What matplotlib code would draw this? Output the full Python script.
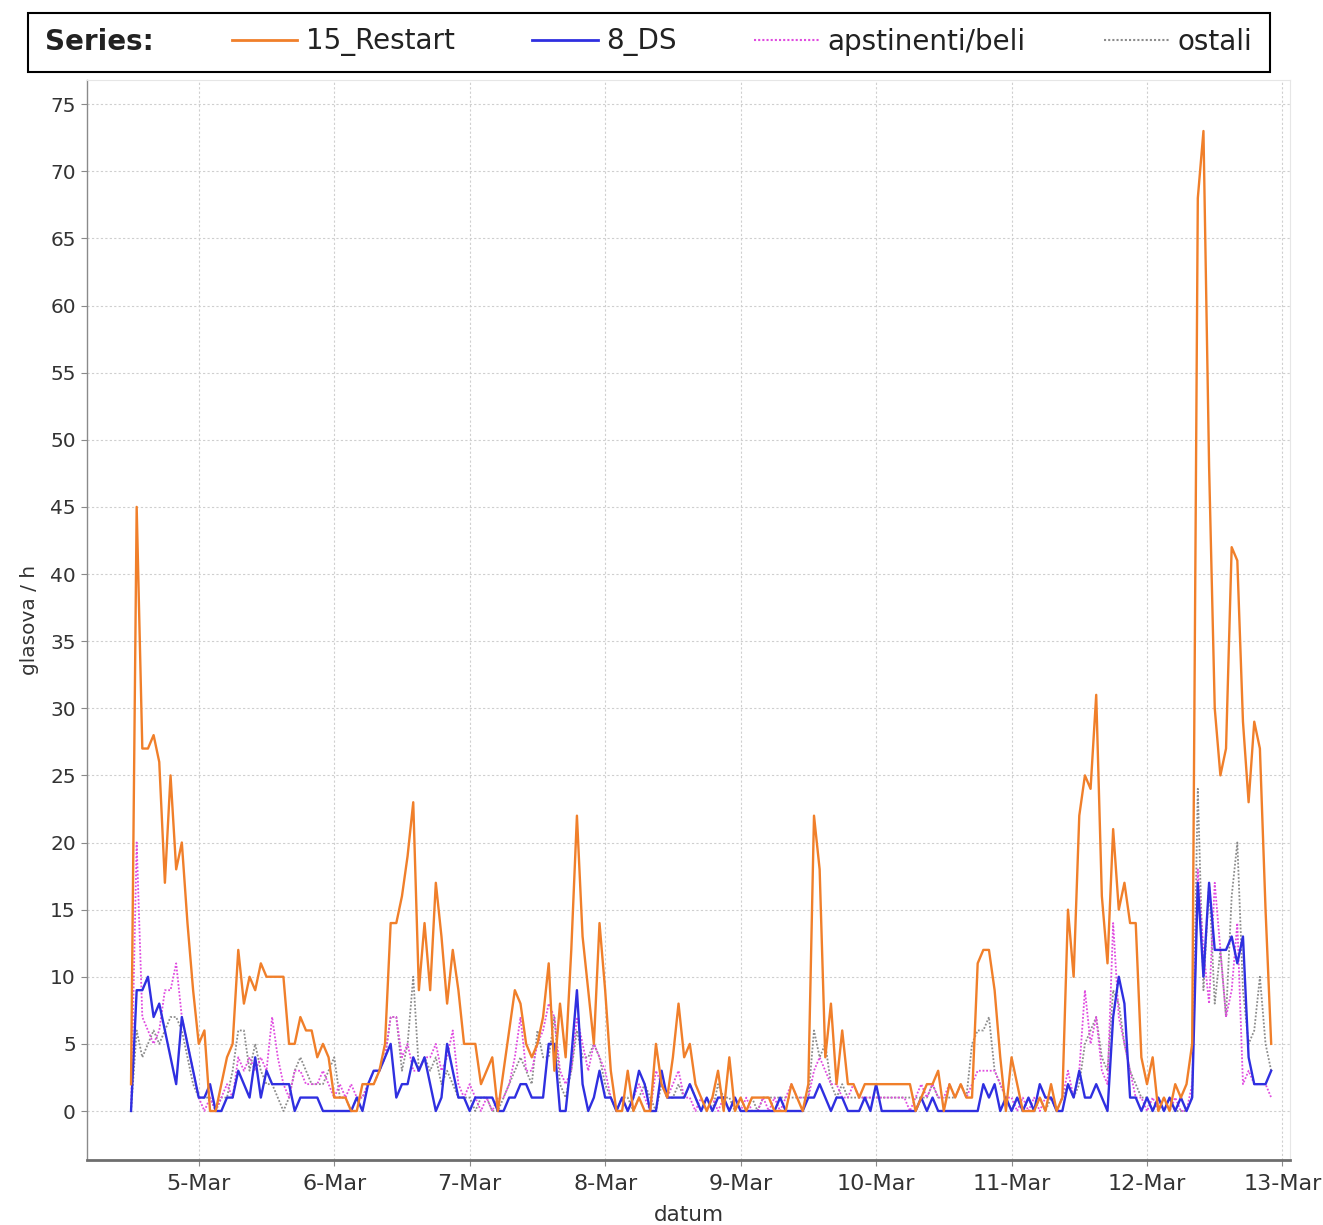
import matplotlib
matplotlib.use("Agg")
import matplotlib.pyplot as plt
import matplotlib.dates as mdates
import pandas as pd
from matplotlib.lines import Line2D
from matplotlib.patches import Rectangle

# hourly votes per series, starting 4-Mar 12:00
START = "2012-03-04 12:00"

restart = [
    2, 45, 27, 27, 28, 26, 17, 25, 18, 20, 14, 9,
    5, 6, 0, 0, 2, 4, 5, 12, 8, 10, 9, 11,
    10, 10, 10, 10, 5, 5, 7, 6, 6, 4, 5, 4,
    1, 1, 1, 0, 0, 2, 2, 2, 3, 5, 14, 14,
    16, 19, 23, 9, 14, 9, 17, 13, 8, 12, 9, 5,
    5, 5, 2, 3, 4, 0, 3, 6, 9, 8, 5, 4,
    5, 7, 11, 3, 8, 4, 12, 22, 13, 9, 5, 14,
    9, 3, 0, 0, 3, 0, 1, 0, 0, 5, 2, 1,
    4, 8, 4, 5, 2, 1, 0, 1, 3, 0, 4, 0,
    1, 0, 1, 1, 1, 1, 0, 0, 0, 2, 1, 0,
    2, 22, 18, 4, 8, 2, 6, 2, 2, 1, 2, 2,
    2, 2, 2, 2, 2, 2, 2, 0, 1, 2, 2, 3,
    0, 2, 1, 2, 1, 1, 11, 12, 12, 9, 4, 0,
    4, 2, 0, 0, 0, 1, 0, 2, 0, 1, 15, 10,
    22, 25, 24, 31, 16, 11, 21, 15, 17, 14, 14, 4,
    2, 4, 0, 1, 0, 2, 1, 2, 5, 68, 73, 48,
    30, 25, 27, 42, 41, 29, 23, 29, 27, 15, 5,
]

ds = [
    0, 9, 9, 10, 7, 8, 6, 4, 2, 7, 5, 3,
    1, 1, 2, 0, 0, 1, 1, 3, 2, 1, 4, 1,
    3, 2, 2, 2, 2, 0, 1, 1, 1, 1, 0, 0,
    0, 0, 0, 0, 1, 0, 2, 3, 3, 4, 5, 1,
    2, 2, 4, 3, 4, 2, 0, 1, 5, 3, 1, 1,
    0, 1, 1, 1, 1, 0, 0, 1, 1, 2, 2, 1,
    1, 1, 5, 5, 0, 0, 4, 9, 2, 0, 1, 3,
    1, 1, 0, 1, 0, 1, 3, 2, 0, 0, 3, 1,
    1, 1, 1, 2, 1, 0, 1, 0, 1, 1, 0, 1,
    0, 0, 0, 0, 0, 0, 0, 1, 0, 0, 0, 0,
    1, 1, 2, 1, 0, 1, 1, 0, 0, 0, 1, 0,
    2, 0, 0, 0, 0, 0, 0, 0, 1, 0, 1, 0,
    0, 0, 0, 0, 0, 0, 0, 2, 1, 2, 0, 1,
    0, 1, 0, 1, 0, 2, 1, 1, 0, 0, 2, 1,
    3, 1, 1, 2, 1, 0, 7, 10, 8, 1, 1, 0,
    1, 0, 1, 0, 1, 0, 1, 0, 1, 17, 10, 17,
    12, 12, 12, 13, 11, 13, 4, 2, 2, 2, 3,
]

apstinenti = [
    0, 20, 7, 6, 5, 6, 9, 9, 11, 7, 5, 3,
    1, 0, 1, 0, 1, 2, 1, 4, 3, 4, 3, 4,
    3, 7, 4, 2, 1, 3, 3, 2, 2, 2, 3, 2,
    1, 2, 1, 2, 1, 1, 2, 3, 3, 4, 7, 7,
    4, 5, 3, 3, 4, 4, 5, 3, 4, 6, 2, 1,
    2, 1, 0, 1, 0, 1, 1, 2, 4, 7, 3, 3,
    5, 6, 8, 7, 3, 2, 3, 7, 5, 3, 5, 4,
    3, 1, 0, 1, 0, 1, 2, 1, 0, 3, 2, 1,
    2, 3, 1, 1, 0, 1, 0, 1, 0, 1, 0, 1,
    0, 1, 0, 0, 1, 0, 1, 0, 1, 2, 1, 1,
    1, 3, 4, 3, 2, 2, 1, 1, 2, 1, 1, 1,
    1, 1, 1, 1, 1, 1, 0, 1, 2, 1, 2, 1,
    1, 2, 1, 2, 1, 2, 3, 3, 3, 3, 2, 1,
    1, 0, 1, 0, 1, 0, 1, 1, 0, 1, 3, 1,
    3, 9, 5, 7, 3, 2, 14, 7, 5, 3, 1, 1,
    0, 1, 0, 1, 0, 1, 0, 0, 2, 18, 12, 8,
    17, 12, 7, 9, 14, 2, 3, 2, 2, 2, 1,
]

ostali = [
    0, 6, 4, 5, 6, 5, 6, 7, 7, 6, 4, 2,
    1, 1, 1, 0, 1, 1, 3, 6, 6, 3, 5, 3,
    2, 2, 1, 0, 1, 3, 4, 3, 2, 2, 2, 3,
    4, 1, 1, 0, 1, 1, 2, 2, 3, 4, 7, 7,
    3, 5, 10, 3, 4, 3, 4, 2, 3, 2, 1, 1,
    1, 0, 1, 1, 0, 0, 1, 2, 3, 4, 3, 2,
    6, 4, 4, 7, 2, 1, 3, 6, 4, 4, 5, 4,
    2, 1, 0, 1, 1, 0, 1, 2, 1, 0, 2, 1,
    1, 2, 1, 2, 1, 0, 1, 0, 2, 1, 1, 0,
    1, 0, 1, 0, 1, 1, 1, 1, 1, 1, 1, 1,
    1, 6, 4, 5, 2, 1, 2, 1, 1, 1, 1, 1,
    1, 1, 1, 1, 1, 1, 1, 1, 1, 1, 2, 1,
    1, 1, 1, 2, 1, 5, 6, 6, 7, 3, 2, 1,
    0, 1, 0, 1, 0, 1, 0, 1, 0, 1, 2, 1,
    2, 5, 6, 7, 4, 3, 9, 8, 5, 3, 2, 1,
    1, 0, 1, 0, 1, 0, 0, 0, 1, 24, 9, 17,
    8, 12, 7, 16, 20, 9, 5, 6, 10, 5, 3,
]

SERIES = ["15_Restart", "8_DS", "apstinenti/beli", "ostali"]
COLORS = ["#F07F2A", "#2F2FE0", "#E04CE0", "#8C8C8C"]
Y_TICKS = list(range(0, 80, 5))

times = pd.date_range(START, periods=len(restart), freq="h")

W, H = 1323, 1225
fig = plt.figure(figsize=(W / 100, H / 100), dpi=100)
ax = fig.add_axes([87 / W, 1 - 1160 / H, (1290 - 87) / W, (1160 - 80) / H])

dotted = (0, (1, 1))
ax.plot(times, ostali, color=COLORS[3], lw=1.3, linestyle=dotted, zorder=2)
ax.plot(times, apstinenti, color=COLORS[2], lw=1.3, linestyle=dotted, zorder=3)
ax.plot(times, ds, color=COLORS[1], lw=1.7, zorder=4)
ax.plot(times, restart, color=COLORS[0], lw=1.7, zorder=5)

ax.set_ylim(-3.65, 76.8)
ax.set_xlim(pd.Timestamp("2012-03-04 04:12"), pd.Timestamp("2012-03-13 01:20"))
ax.set_yticks(Y_TICKS)
ax.xaxis.set_major_locator(mdates.DayLocator())
ax.xaxis.set_major_formatter(mdates.DateFormatter("%-d-%b"))

ax.grid(True, color="#CFCFCF", linestyle=(0, (2, 2)), linewidth=0.8)
ax.set_axisbelow(True)
for side in ["top", "right"]:
    ax.spines[side].set_color("#E6E6E6")
    ax.spines[side].set_linewidth(0.8)
ax.spines["left"].set_color("#8A8A8A")
ax.spines["left"].set_linewidth(1.0)
ax.spines["bottom"].set_color("#6E6E6E")
ax.spines["bottom"].set_linewidth(2.0)
ax.tick_params(axis="both", colors="#8A8A8A", length=4, width=0.8, labelcolor="#333333")
ax.tick_params(axis="y", labelsize=14.5, pad=4)
ax.tick_params(axis="x", labelsize=16, pad=6)
ax.set_ylabel("glasova / h", fontsize=14.5, color="#333333", labelpad=8)
ax.set_xlabel("datum", fontsize=15.5, color="#333333", labelpad=8)

# legend box across the top
fig.patches.append(Rectangle((28 / W, 1 - 72 / H), (1270 - 28) / W, (72 - 13) / H,
                             transform=fig.transFigure, fill=False, edgecolor="black",
                             linewidth=1.5))
fig.text(45 / W, 1 - 42 / H, "Series:", fontsize=20, fontweight="bold",
         va="center", ha="left", color="#222222")
handles = [
    Line2D([], [], color=COLORS[0], lw=2.0),
    Line2D([], [], color=COLORS[1], lw=2.0),
    Line2D([], [], color=COLORS[2], lw=1.5, linestyle=dotted),
    Line2D([], [], color=COLORS[3], lw=1.5, linestyle=dotted),
]
leg = fig.legend(handles, SERIES, loc="center left", bbox_to_anchor=(232 / W, 1 - 42 / H),
                 ncol=4, frameon=False, fontsize=20, handlelength=2.35,
                 handletextpad=0.3, columnspacing=2.8, borderpad=0, borderaxespad=0)
for t in leg.get_texts():
    t.set_color("#222222")

fig.savefig("out.png", dpi=100, facecolor="white")
